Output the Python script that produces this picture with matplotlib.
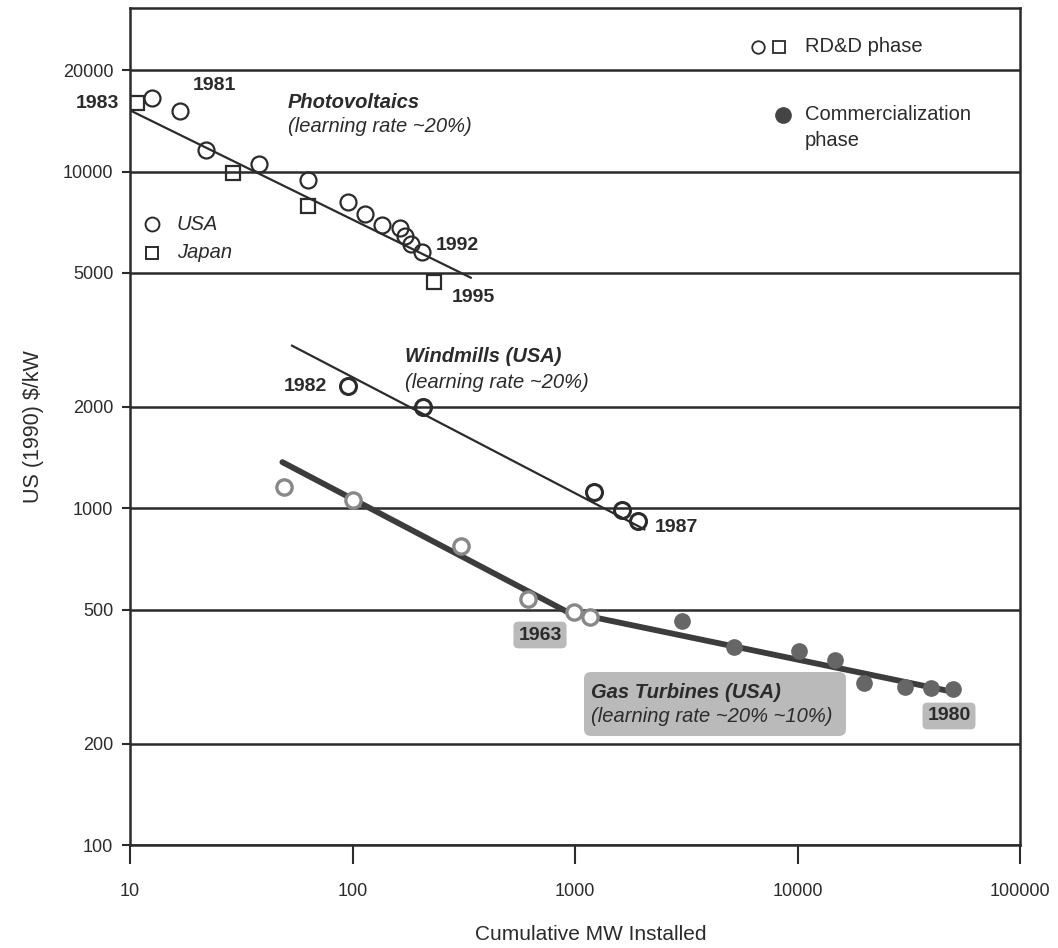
import matplotlib
matplotlib.use('Agg')
import matplotlib.pyplot as plt
from matplotlib.patches import FancyBboxPatch

plt.rcParams['font.family'] = ['Liberation Sans', 'DejaVu Sans']

# Photovoltaics (RD&D phase)
pv_usa_mw = [12.6, 16.8, 22, 38, 63, 95, 114, 136, 163, 173, 184, 205]
pv_usa_cost = [16500, 15100, 11550, 10500, 9460, 8140, 7500, 6950, 6810, 6450, 6110, 5780]
pv_japan_mw = [10.75, 29, 63, 232]
pv_japan_cost = [16030, 9930, 7920, 4710]
pv_fit_mw = [10, 340]
pv_fit_cost = [15200, 4840]

# Windmills (USA)
wind_mw = [95, 207, 1218, 1628, 1922]
wind_cost = [2307, 1998, 1116, 986, 914]
wind_fit_mw = [53.5, 2050]
wind_fit_cost = [3040, 866]

# Gas turbines (USA)
gas_rdd_mw = [49.4, 100, 306, 614, 989, 1169]
gas_rdd_cost = [1155, 1057, 771, 536, 493, 477]
gas_com_mw = [3034, 5200, 10200, 14700, 20000, 30300, 39700, 49900]
gas_com_cost = [464, 388, 378, 355, 303, 295, 293, 291]
gas_fit_mw = [48.4, 920, 49900]
gas_fit_cost = [1371, 493, 285]

x_ticks = [10, 100, 1000, 10000, 100000]
y_ticks = [100, 200, 500, 1000, 2000, 5000, 10000, 20000]

dark = '#2b2b2b'
W, H = 1058, 948

fig = plt.figure(figsize=(W / 100, H / 100), dpi=100)
ax = fig.add_axes([130 / W, 1 - 845 / H, 890 / W, 837 / H])
ax.set_xscale('log')
ax.set_yscale('log')
ax.set_xlim(10, 100000)
ax.set_ylim(100, 30600)


def pos(px, py):
    # pixel position of the reference -> axes fraction
    return (px - 130) / 890, (845 - py) / 837


for v in y_ticks:
    ax.axhline(v, color=dark, lw=1.8, zorder=1)

# fitted lines
ax.plot(pv_fit_mw, pv_fit_cost, color=dark, lw=1.6, zorder=2)
ax.plot(wind_fit_mw, wind_fit_cost, color=dark, lw=1.6, zorder=2)
ax.plot(gas_fit_mw, gas_fit_cost, color='#3c3c3c', lw=4.2, zorder=2,
        solid_capstyle='round', solid_joinstyle='round')

# points
ax.plot(pv_usa_mw, pv_usa_cost, 'o', ms=11.5, mfc='none', mec=dark, mew=1.6, zorder=3)
ax.plot(pv_japan_mw, pv_japan_cost, 's', ms=10.5, mfc='none', mec=dark, mew=1.6, zorder=3)
ax.plot(wind_mw, wind_cost, 'o', ms=11.5, mfc='none', mec=dark, mew=2.2, zorder=3)
ax.plot(gas_rdd_mw, gas_rdd_cost, 'o', ms=11, mfc='white', mec='#888888', mew=2.4, zorder=3)
ax.plot(gas_com_mw, gas_com_cost, 'o', ms=11, mfc='#666666', mec='#666666', zorder=3)

# axes styling
for s in ax.spines.values():
    s.set_color(dark)
    s.set_linewidth(1.8)
ax.set_xticks(x_ticks)
ax.set_xticklabels([str(v) for v in x_ticks])
ax.set_yticks(y_ticks)
ax.set_yticklabels([str(v) for v in y_ticks])
ax.minorticks_off()
ax.tick_params(axis='both', direction='out', colors=dark, labelsize=13, width=1.5)
ax.tick_params(axis='x', length=14, pad=13)
ax.tick_params(axis='y', length=6, pad=6)
ax.set_xlabel('Cumulative MW Installed', fontsize=15, color=dark)
ax.set_ylabel(r'US (1990) \$/kW', fontsize=15.5, color=dark)
ax.xaxis.set_label_coords(0.518, -0.096)
ax.yaxis.set_label_coords(-0.097, 0.5)

tr = ax.transAxes
bold = dict(transform=tr, fontsize=14, fontweight='bold', color=dark, va='center', clip_on=False)
ital = dict(transform=tr, fontsize=14.5, fontstyle='italic', color=dark, va='center')

# year labels
ax.text(*pos(193, 86), '1981', **bold)
ax.text(*pos(119, 103), '1983', ha='right', **bold)
ax.text(*pos(436, 246), '1992', **bold)
ax.text(*pos(452, 298), '1995', **bold)
ax.text(*pos(327, 386), '1982', ha='right', **bold)
ax.text(*pos(655, 527), '1987', **bold)
box = dict(boxstyle='round,pad=0.25', fc='#bababa', ec='none')
ax.text(*pos(540, 635), '1963', ha='center', bbox=box, **bold)
ax.text(*pos(949, 716), '1980', ha='center', bbox=box, **bold)

# series labels
ax.text(*pos(288, 103), 'Photovoltaics', fontweight='bold', **ital)
ax.text(*pos(288, 127), '(learning rate ~20%)', **ital)
ax.text(*pos(405, 356), 'Windmills (USA)', fontweight='bold', **ital)
ax.text(*pos(405, 382), '(learning rate ~20%)', **ital)
x0, y0 = pos(584, 736)
x1, y1 = pos(846, 672)
ax.add_patch(FancyBboxPatch((x0, y0), x1 - x0, y1 - y0, boxstyle='round,pad=0,rounding_size=0.008',
                            fc='#bababa', ec='none', transform=tr, zorder=4))
ax.text(*pos(591, 692), 'Gas Turbines (USA)', fontweight='bold', zorder=5, **ital)
ax.text(*pos(591, 717), '(learning rate ~20% ~10%)', zorder=5, **ital)

# USA / Japan key
ax.plot(*pos(152, 224), 'o', ms=10, mfc='none', mec=dark, mew=1.4, transform=tr)
ax.plot(*pos(152, 253), 's', ms=9, mfc='none', mec=dark, mew=1.4, transform=tr)
ax.text(*pos(177, 225), 'USA', **ital)
ax.text(*pos(177, 253), 'Japan', **ital)

# phase key
ax.plot(*pos(758, 47), 'o', ms=9, mfc='none', mec=dark, mew=1.3, transform=tr)
ax.plot(*pos(779, 47), 's', ms=8.5, mfc='none', mec=dark, mew=1.3, transform=tr)
key = dict(transform=tr, fontsize=14.5, color=dark, va='center')
ax.text(*pos(805, 47), 'RD&D phase', **key)
ax.plot(*pos(783, 115), 'o', ms=11, mfc='#444444', mec='#444444', transform=tr)
ax.text(*pos(805, 115), 'Commercialization', **key)
ax.text(*pos(805, 141), 'phase', **key)

fig.savefig('out.png', dpi=100, facecolor='white')
